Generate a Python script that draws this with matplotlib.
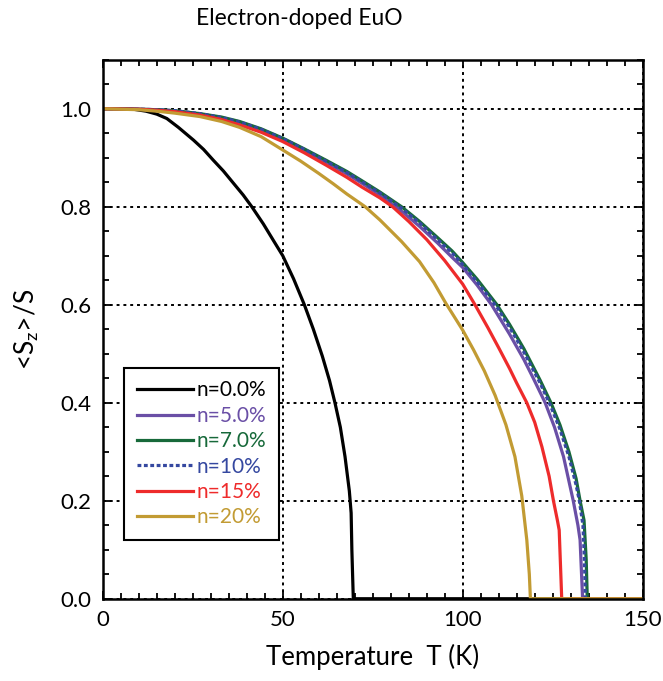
import matplotlib
matplotlib.use("Agg")
import matplotlib.pyplot as plt
from matplotlib.ticker import MultipleLocator

plt.rcParams['font.family'] = ['Lato', 'DejaVu Sans']
plt.rcParams['mathtext.fontset'] = 'custom'
plt.rcParams['mathtext.rm'] = 'Lato'

# ---- data ----
labels = ["n=0.0%", "n=5.0%", "n=7.0%", "n=10%", "n=15%", "n=20%"]
colors = ["#000000", "#6a4fa6", "#17693a", "#3548a0", "#ee2b2b", "#c29b33"]

T_n00 = [0, 5, 8.5, 12, 15, 17.8, 21, 25.2, 28, 30.7, 33.5, 36.3, 39, 41.4, 44.6, 47.5, 50, 53, 56,
         58.5, 61, 63, 64.5, 66, 67.3, 68.5, 69.0, 69.2, 69.6, 70.7, 150]
M_n00 = [1.0, 1.0, 0.999, 0.995, 0.989, 0.980, 0.962, 0.936, 0.917, 0.895, 0.873, 0.848, 0.824, 0.800,
         0.765, 0.730, 0.700, 0.653, 0.600, 0.550, 0.495, 0.445, 0.400, 0.350, 0.290, 0.220, 0.175,
         0.100, 0.0, 0.0, 0.0]

T_n05 = [0, 10, 15, 20, 27, 33, 38, 44, 50, 56, 62, 67.8, 72, 77, 83, 88, 93, 97, 100, 104, 108,
         113, 117, 119.6, 122.9, 125.5, 128, 130.7, 132.0, 132.6, 133.3, 150]
M_n05 = [1.0, 0.999, 0.998, 0.995, 0.989, 0.981, 0.972, 0.956, 0.937, 0.915, 0.891, 0.867, 0.848,
         0.824, 0.791, 0.760, 0.726, 0.697, 0.676, 0.640, 0.600, 0.540, 0.488, 0.450, 0.400, 0.350,
         0.290, 0.200, 0.150, 0.120, 0.0, 0.0]

T_n07 = [0, 10, 15, 20, 27, 33, 38, 44, 50, 56, 62, 67.8, 72, 77, 83, 88, 93, 97, 100, 104, 109.5,
         113, 117, 121.5, 124.5, 127, 129.5, 131.5, 132.6, 133.7, 134.3, 134.6, 150]
M_n07 = [1.0, 0.999, 0.998, 0.996, 0.990, 0.983, 0.974, 0.959, 0.940, 0.918, 0.895, 0.872, 0.853,
         0.830, 0.800, 0.770, 0.737, 0.710, 0.686, 0.652, 0.600, 0.560, 0.510, 0.446, 0.400, 0.355,
         0.300, 0.245, 0.200, 0.160, 0.080, 0.0, 0.0]

T_n10 = [0, 10, 15, 20, 27, 33, 38, 44, 50, 56, 62, 67.8, 72, 77, 83, 88, 93, 97, 100, 104, 109.5,
         113, 117, 121.5, 124.5, 127, 129.5, 131.5, 132.4, 133.4, 133.8, 134.1, 150]
M_n10 = [1.0, 0.999, 0.998, 0.996, 0.990, 0.982, 0.973, 0.958, 0.939, 0.917, 0.893, 0.870, 0.851,
         0.828, 0.797, 0.767, 0.733, 0.706, 0.682, 0.647, 0.595, 0.554, 0.503, 0.440, 0.392, 0.346,
         0.290, 0.232, 0.200, 0.150, 0.080, 0.0, 0.0]

T_n15 = [0, 10, 15, 20, 27, 33, 38, 44, 50, 56, 62, 67.8, 72, 77, 80.5, 85, 90, 95, 100, 103.4,
         107, 110, 113, 115, 117.8, 120, 122, 124, 125.2, 126.3, 126.8, 127.5, 150]
M_n15 = [1.0, 0.999, 0.997, 0.994, 0.987, 0.978, 0.967, 0.952, 0.933, 0.910, 0.885, 0.860, 0.840,
         0.818, 0.800, 0.770, 0.733, 0.690, 0.642, 0.600, 0.553, 0.512, 0.470, 0.440, 0.400, 0.360,
         0.310, 0.250, 0.200, 0.160, 0.140, 0.0, 0.0]

T_n20 = [0, 10, 15, 20, 27, 33, 38, 44, 49.3, 55, 60, 64, 67.8, 72.9, 77, 83, 88, 92, 95.3, 100,
         103, 106, 109, 112, 114.5, 116.4, 117.8, 118.5, 118.8, 150]
M_n20 = [1.0, 0.998, 0.995, 0.991, 0.984, 0.974, 0.962, 0.943, 0.919, 0.893, 0.868, 0.847, 0.826,
         0.800, 0.773, 0.729, 0.688, 0.645, 0.603, 0.548, 0.508, 0.465, 0.415, 0.355, 0.290, 0.210,
         0.120, 0.050, 0.0, 0.0]

series = [(T_n00, M_n00), (T_n05, M_n05), (T_n07, M_n07), (T_n10, M_n10), (T_n15, M_n15), (T_n20, M_n20)]
styles = ["-", "-", "-", (0, (1.2, 0.8)), "-", "-"]

xticks = [0, 50, 100, 150]
yticks = [0.0, 0.2, 0.4, 0.6, 0.8, 1.0]

fig = plt.figure(figsize=(6.63, 6.81), dpi=100)
ax = fig.add_axes([0.155, 0.1208, 0.8144, 0.7915])

for (T, M), lab, c, ls in zip(series, labels, colors, styles):
    ax.plot(T, M, color=c, lw=2.3, ls=ls, label=lab, zorder=3,
            solid_joinstyle='round')

ax.set_xlim(0, 150)
ax.set_ylim(0, 1.1)
ax.set_xticks(xticks)
ax.set_yticks(yticks)
ax.set_yticklabels([f"{v:.1f}" for v in yticks])
ax.xaxis.set_minor_locator(MultipleLocator(5))
ax.yaxis.set_minor_locator(MultipleLocator(0.05))
ax.tick_params(which='both', direction='in', top=True, right=True, width=1.3, labelsize=16, color='black')
ax.tick_params(which='major', length=6, pad=8)
ax.tick_params(which='minor', length=4)
for s in ax.spines.values():
    s.set_linewidth(1.8)
    s.set_zorder(4)

ax.grid(True, which='major', color='black', ls=(0, (1.5, 2.0)), lw=1.4)
ax.set_axisbelow(True)

ax.set_xlabel("Temperature  T (K)", fontsize=18.5, labelpad=10)
ax.set_ylabel(r"<S$_\mathregular{z}$>/S", fontsize=19, labelpad=14)
fig.text(0.451, 0.973, "Electron-doped EuO", ha='center', va='center', fontsize=16.5)

leg = ax.legend(loc='lower left', bbox_to_anchor=(0.0394, 0.109), borderaxespad=0, fontsize=15,
                frameon=True, fancybox=False, edgecolor='black', framealpha=1,
                handlelength=2.7, handletextpad=0.2, labelspacing=0.26, borderpad=0.6)
leg.get_frame().set_linewidth(1.5)
for txt, c in zip(leg.get_texts(), colors):
    txt.set_color(c)

fig.savefig("out.png", dpi=100)
